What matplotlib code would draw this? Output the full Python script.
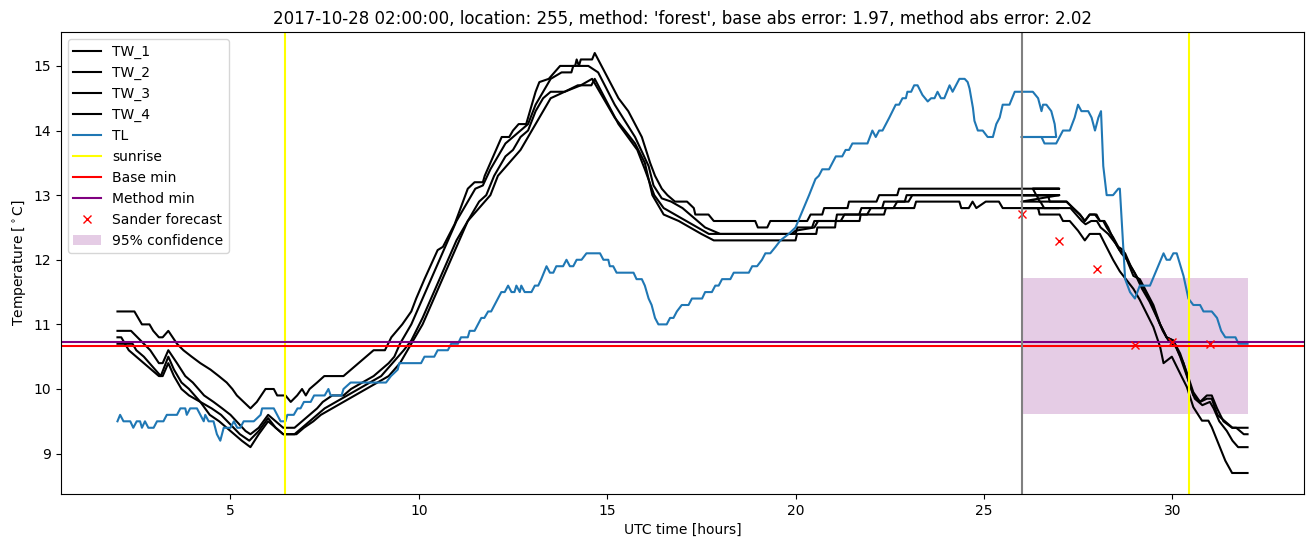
import numpy as np
import matplotlib
matplotlib.use('Agg')
import matplotlib.pyplot as plt

# station data, day 1 (02 UTC -> 27 UTC) followed by the forecast window (26 -> 32 UTC)
tw1_hours = [2.0, 2.45, 2.55, 2.65, 2.85, 2.95, 3.1, 3.2, 3.35, 3.58, 3.75, 3.97, 4.2, 4.47, 4.69, 4.9,
             5.05, 5.17, 5.35, 5.53, 5.7, 5.93, 6.15, 6.24, 6.46, 6.6, 6.77, 6.9, 7.0, 7.1, 7.3, 7.49,
             8.0, 8.2, 8.4, 8.6, 8.8, 9.1, 9.27, 9.56, 9.8, 9.93, 10.15, 10.5, 10.64, 10.95, 11.3, 11.48,
             11.7, 11.75, 12.2, 12.4, 12.5, 12.65, 12.85, 13.1, 13.2, 13.45, 13.75, 14.15, 14.19, 14.25,
             14.3, 14.6, 14.67, 14.85, 15.3, 15.56, 15.92, 16.14, 16.27, 16.45, 16.6, 16.8, 17.12, 17.3,
             17.34, 17.69, 17.83, 18.93, 19.0, 19.25, 19.33, 20.31, 20.4, 20.71, 20.76, 21.38, 21.42,
             22.15, 22.22, 22.7, 22.75, 27.0,
             26.0, 26.3, 26.39, 26.7, 26.75, 27.19, 27.37, 27.55, 27.68, 27.81, 27.99, 28.08, 28.17,
             28.26, 28.43, 28.57, 28.7, 28.83, 28.97, 29.14, 29.32, 29.5, 29.68, 29.85, 30.03, 30.21,
             30.39, 30.56, 30.74, 30.92, 31.05, 31.19, 31.36, 31.59, 31.9, 32.0]
tw1_temp = [11.2, 11.2, 11.1, 11.0, 11.0, 10.9, 10.8, 10.8, 10.9, 10.7, 10.6, 10.5, 10.4, 10.3, 10.2, 10.1,
            10.0, 9.9, 9.8, 9.7, 9.8, 10.0, 10.0, 9.9, 9.9, 9.8, 9.9, 10.0, 9.9, 10.0, 10.1, 10.2,
            10.2, 10.3, 10.4, 10.5, 10.6, 10.6, 10.8, 11.0, 11.2, 11.4, 11.7, 12.15, 12.2, 12.55, 13.1, 13.2,
            13.2, 13.3, 13.9, 13.9, 14.0, 14.1, 14.1, 14.6, 14.75, 14.8, 15.0, 15.0, 15.1, 15.0,
            15.1, 15.1, 15.2, 15.0, 14.5, 14.3, 13.9, 13.5, 13.3, 13.1, 13.0, 12.9, 12.9, 12.8,
            12.7, 12.7, 12.6, 12.6, 12.5, 12.5, 12.6, 12.6, 12.7, 12.7, 12.8, 12.8, 12.9,
            12.9, 13.0, 13.0, 13.1, 13.1,
            13.1, 13.1, 13.0, 13.0, 12.9, 12.9, 12.8, 12.7, 12.6, 12.7, 12.7, 12.6, 12.6,
            12.5, 12.35, 12.2, 12.15, 11.95, 11.75, 11.7, 11.5, 11.3, 11.0, 10.8, 10.75, 10.55,
            10.25, 9.95, 9.8, 9.9, 9.9, 9.7, 9.5, 9.4, 9.4, 9.4]

tw2_hours = [2.0, 2.36, 2.53, 2.7, 2.87, 3.1, 3.2, 3.35, 3.58, 3.8, 4.0, 4.3, 4.55, 4.78, 5.0, 5.24,
             5.4, 5.53, 5.75, 6.0, 6.2, 6.4, 6.7, 6.9, 7.1, 7.3, 7.45, 7.7, 8.0, 8.2, 8.5, 8.8, 9.0,
             9.2, 9.35, 9.5, 9.8, 10.1, 10.4, 10.7, 11.0, 11.2, 11.5, 11.7, 11.9, 12.1, 12.3, 12.5,
             12.7, 12.9, 13.1, 13.3, 13.5, 13.79, 14.05, 14.1, 14.41, 14.5, 14.76, 15.2, 15.74, 16.1,
             16.23, 16.45, 16.7, 17.0, 17.2, 17.4, 17.6, 18.0, 20.0, 20.05, 20.44, 20.5, 21.07, 21.1,
             21.69, 21.75, 22.3, 22.35, 22.9, 22.95, 27.0,
             26.0, 26.4, 26.48, 27.2, 27.37, 27.55, 27.68, 27.81, 27.95, 28.08, 28.2, 28.3, 28.45,
             28.6, 28.75, 28.9, 29.1, 29.3, 29.5, 29.68, 29.85, 30.03, 30.21, 30.39, 30.56, 30.74,
             30.92, 31.05, 31.2, 31.4, 31.6, 31.7, 31.9, 32.0]
tw2_temp = [10.9, 10.9, 10.8, 10.7, 10.6, 10.4, 10.4, 10.6, 10.4, 10.2, 10.1, 9.9, 9.8, 9.7, 9.6, 9.45,
            9.35, 9.3, 9.4, 9.6, 9.5, 9.4, 9.4, 9.5, 9.6, 9.7, 9.8, 9.9, 9.9, 10.0, 10.1, 10.2, 10.3,
            10.4, 10.5, 10.7, 11.0, 11.4, 11.8, 12.2, 12.6, 12.8, 13.1, 13.15, 13.4, 13.6, 13.8, 13.9,
            14.0, 14.1, 14.4, 14.6, 14.8, 14.9, 14.9, 15.0, 15.0, 15.0, 14.9, 14.4, 13.9, 13.45,
            13.15, 12.95, 12.9, 12.8, 12.7, 12.6, 12.5, 12.4, 12.4, 12.5, 12.5, 12.6, 12.6, 12.7,
            12.7, 12.8, 12.8, 12.9, 12.9, 13.0, 13.0,
            13.0, 13.0, 12.9, 12.9, 12.8, 12.7, 12.6, 12.7, 12.7, 12.6, 12.6, 12.5, 12.3,
            12.15, 12.1, 11.9, 11.7, 11.5, 11.25, 11.0, 10.8, 10.75, 10.5, 10.2, 9.9, 9.8,
            9.85, 9.85, 9.6, 9.5, 9.4, 9.4, 9.3, 9.3]

tw3_hours = [2.0, 2.1, 2.2, 2.4, 2.5, 2.7, 2.85, 3.0, 3.15, 3.35, 3.5, 3.7, 3.9, 4.2, 4.5, 4.75, 5.0,
             5.25, 5.5, 5.75, 6.0, 6.2, 6.4, 6.7, 6.9, 7.1, 7.3, 7.5, 7.8, 8.1, 8.4, 8.7, 9.0, 9.3,
             9.6, 9.8, 10.1, 10.4, 10.7, 11.0, 11.3, 11.6, 11.79, 12.0, 12.3, 12.5, 12.7, 12.9, 13.1,
             13.3, 13.5, 13.87, 14.22, 14.58, 14.67, 14.76, 15.3, 15.8, 16.0, 16.25, 16.5, 16.8, 17.1,
             17.4, 17.7, 18.0, 19.9, 20.0, 20.5, 20.6, 21.2, 21.3, 21.9, 22.0, 22.6, 22.7, 23.0, 23.1,
             27.0,
             26.0, 26.5, 26.6, 27.3, 27.45, 27.6, 27.7, 27.85, 28.0, 28.1, 28.3, 28.5, 28.65, 28.8,
             29.0, 29.2, 29.4, 29.6, 29.75, 29.9, 30.1, 30.3, 30.45, 30.6, 30.8, 31.0, 31.1, 31.25,
             31.45, 31.6, 31.75, 32.0]
tw3_temp = [10.8, 10.8, 10.7, 10.7, 10.6, 10.5, 10.4, 10.3, 10.2, 10.5, 10.3, 10.1, 10.0, 9.8, 9.7, 9.6, 9.45,
            9.3, 9.2, 9.35, 9.55, 9.4, 9.3, 9.3, 9.4, 9.5, 9.6, 9.7, 9.8, 9.9, 10.0, 10.1, 10.2, 10.4,
            10.6, 10.75, 11.1, 11.5, 11.9, 12.3, 12.6, 12.9, 13.0, 13.3, 13.6, 13.7, 13.9, 14.0, 14.3,
            14.5, 14.6, 14.6, 14.7, 14.7, 14.8, 14.7, 14.1, 13.7, 13.4, 13.0, 12.8, 12.7, 12.6,
            12.5, 12.4, 12.4, 12.4, 12.45, 12.5, 12.6, 12.6, 12.7, 12.7, 12.8, 12.8, 12.9, 12.9, 13.0,
            13.0,
            12.9, 12.9, 12.8, 12.8, 12.7, 12.6, 12.55, 12.6, 12.6, 12.5, 12.4, 12.25, 12.1, 12.0,
            11.8, 11.55, 11.35, 11.1, 10.9, 10.75, 10.65, 10.4, 10.1, 9.85, 9.75, 9.8, 9.7, 9.5,
            9.35, 9.2, 9.1, 9.1]

tw4_hours = [2.0, 2.2, 2.3, 2.5, 2.7, 2.9, 3.1, 3.2, 3.35, 3.5, 3.7, 3.9, 4.2, 4.45, 4.7, 5.0, 5.3,
             5.53, 5.75, 6.0, 6.2, 6.4, 6.75, 6.95, 7.2, 7.4, 7.7, 8.0, 8.3, 8.6, 8.9, 9.2, 9.5, 9.8,
             10.1, 10.4, 10.7, 11.0, 11.3, 11.6, 11.9, 12.1, 12.4, 12.7, 13.0, 13.3, 13.5, 13.87,
             14.3, 14.6, 14.7, 15.2, 15.74, 16.0, 16.2, 16.5, 16.9, 17.2, 17.5, 17.83, 20.0, 20.04,
             20.55, 20.58, 21.05, 21.07, 21.7, 21.73, 22.35, 22.4, 23.15, 23.2, 24.35, 24.4, 24.6,
             24.7, 24.8, 25.05, 25.4, 25.5, 27.0,
             26.0, 26.44, 26.48, 27.01, 27.1, 27.28, 27.5, 27.68, 27.81, 28.08, 28.21, 28.43, 28.61,
             28.97, 29.14, 29.32, 29.5, 29.68, 29.77, 29.99, 30.21, 30.39, 30.56, 30.79, 30.96,
             31.05, 31.23, 31.41, 31.59, 32.0]
tw4_temp = [10.7, 10.7, 10.6, 10.5, 10.4, 10.3, 10.2, 10.2, 10.4, 10.2, 10.0, 9.9, 9.8, 9.6, 9.5, 9.35, 9.2,
            9.1, 9.3, 9.5, 9.4, 9.3, 9.3, 9.4, 9.5, 9.6, 9.7, 9.8, 9.9, 10.0, 10.1, 10.2, 10.4, 10.7,
            11.0, 11.4, 11.8, 12.2, 12.6, 12.8, 13.0, 13.3, 13.5, 13.7, 14.0, 14.3, 14.5, 14.6,
            14.7, 14.8, 14.7, 14.2, 13.8, 13.5, 13.0, 12.7, 12.6, 12.5, 12.4, 12.3, 12.3, 12.4,
            12.4, 12.5, 12.5, 12.6, 12.6, 12.7, 12.7, 12.8, 12.8, 12.9, 12.9, 12.8, 12.8,
            12.9, 12.8, 12.9, 12.9, 12.8, 12.8,
            12.8, 12.8, 12.7, 12.7, 12.6, 12.6, 12.45, 12.3, 12.4, 12.4, 12.25, 12.0, 11.82,
            11.55, 11.38, 11.17, 10.96, 10.65, 10.4, 10.5, 10.24, 10.03, 9.72, 9.51, 9.51,
            9.41, 9.15, 8.89, 8.7, 8.7]

tl_hours = [2.0, 2.07, 2.16, 2.34, 2.42, 2.51, 2.6, 2.65, 2.73, 2.82, 2.96, 3.05, 3.22, 3.31, 3.58, 3.67,
            3.8, 3.84, 3.93, 4.11, 4.2, 4.29, 4.33, 4.42, 4.55, 4.64, 4.73, 4.82, 5.0, 5.09, 5.18, 5.26,
            5.35, 5.62, 5.8, 5.84, 6.15, 6.33, 6.46, 6.51, 6.68, 6.78, 6.86, 6.95, 7.13, 7.22, 7.5,
            7.6, 7.66, 7.95, 8.0, 8.19, 9.13, 9.26, 9.44, 9.48, 10.06, 10.15, 10.41, 10.5, 10.77,
            10.86, 11.04, 11.12, 11.3, 11.35, 11.48, 11.57, 11.66, 11.74, 11.84, 11.92, 12.1, 12.19,
            12.28, 12.37, 12.46, 12.54, 12.59, 12.68, 12.72, 12.81, 12.99, 13.08, 13.17, 13.25, 13.39,
            13.48, 13.57, 13.65, 13.83, 13.92, 14.01, 14.1, 14.19, 14.32, 14.45, 14.81, 14.9, 15.03,
            15.07, 15.16, 15.25, 15.7, 15.78, 15.92, 16.0, 16.1, 16.18, 16.27, 16.36, 16.58, 16.67,
            16.76, 16.85, 16.98, 17.16, 17.25, 17.52, 17.6, 17.78, 17.87, 17.96, 18.05, 18.27, 18.36,
            18.76, 18.85, 18.98, 19.11, 19.2, 19.33, 19.47, 19.6, 19.82, 20.0, 20.36, 20.53, 20.62,
            20.71, 20.89, 20.98, 21.07, 21.24, 21.33, 21.42, 21.51, 21.91, 22.04, 22.13, 22.22, 22.31,
            22.49, 22.66, 22.75, 22.84, 22.93, 22.97, 23.07, 23.15, 23.24, 23.37, 23.51, 23.6, 23.69,
            23.77, 23.86, 23.95, 24.09, 24.17, 24.35, 24.49, 24.57, 24.62, 24.71, 24.75, 24.84, 24.97,
            25.1, 25.24, 25.33, 25.42, 25.5, 25.68, 25.82, 26.3, 26.44, 26.53, 26.57, 26.66, 26.79,
            26.88, 26.92,
            26.0, 26.53, 26.61, 26.92, 27.1, 27.28, 27.41, 27.5, 27.59, 27.77, 27.86, 27.95, 28.04,
            28.11, 28.17, 28.26, 28.43, 28.57, 28.61, 28.75, 28.88, 29.01, 29.14, 29.41, 29.59,
            29.77, 29.85, 29.94, 30.03, 30.12, 30.3, 30.43, 30.56, 30.74, 30.83, 31.05, 31.19, 31.3,
            31.41, 31.68, 31.76, 32.0]
tl_temp = [9.5, 9.6, 9.5, 9.5, 9.4, 9.5, 9.5, 9.4, 9.5, 9.4, 9.4, 9.5, 9.5, 9.6, 9.6, 9.7,
           9.7, 9.6, 9.7, 9.7, 9.6, 9.5, 9.6, 9.5, 9.5, 9.3, 9.2, 9.4, 9.4, 9.5, 9.4, 9.4,
           9.5, 9.5, 9.6, 9.7, 9.7, 9.5, 9.5, 9.6, 9.6, 9.7, 9.7, 9.8, 9.8, 9.9, 9.9,
           10.0, 9.9, 9.9, 10.0, 10.1, 10.1, 10.2, 10.3, 10.4, 10.4, 10.5, 10.5, 10.6, 10.6,
           10.7, 10.7, 10.8, 10.8, 10.9, 10.9, 11.0, 11.1, 11.1, 11.2, 11.2, 11.4, 11.5,
           11.5, 11.6, 11.5, 11.5, 11.6, 11.5, 11.6, 11.5, 11.5, 11.6, 11.6, 11.7, 11.9,
           11.8, 11.8, 11.9, 11.9, 12.0, 11.9, 11.9, 12.0, 12.0, 12.1, 12.1, 12.0, 12.0,
           11.9, 11.9, 11.8, 11.8, 11.7, 11.7, 11.6, 11.4, 11.3, 11.1, 11.0, 11.0, 11.1,
           11.1, 11.2, 11.3, 11.3, 11.4, 11.4, 11.5, 11.5, 11.6, 11.6, 11.7, 11.7, 11.8,
           11.8, 11.9, 11.9, 12.0, 12.1, 12.1, 12.2, 12.3, 12.4, 12.5, 13.0, 13.25, 13.3,
           13.4, 13.4, 13.5, 13.6, 13.6, 13.7, 13.7, 13.8, 13.8, 14.0, 13.9, 14.0, 14.0,
           14.2, 14.4, 14.4, 14.5, 14.5, 14.6, 14.6, 14.7, 14.7, 14.55, 14.45, 14.5, 14.5,
           14.6, 14.5, 14.5, 14.7, 14.6, 14.8, 14.8, 14.75, 14.65, 14.35, 14.15, 14.0, 14.0,
           13.9, 13.9, 14.1, 14.2, 14.4, 14.4, 14.6, 14.6, 14.5, 14.3, 14.4, 14.4, 14.3,
           14.1, 13.9,
           13.9, 13.9, 13.8, 13.8, 14.0, 14.0, 14.2, 14.4, 14.3, 14.3, 14.2, 14.0, 14.2,
           14.3, 13.45, 13.0, 13.0, 13.1, 13.1, 11.7, 11.5, 11.4, 11.6, 11.6, 11.85,
           12.1, 12.0, 12.0, 12.1, 12.1, 11.75, 11.4, 11.3, 11.3, 11.2, 11.2, 11.1, 10.9,
           10.8, 10.8, 10.7, 10.7]

sunrise_hours = [6.45, 30.45]
forecast_start = 26.0
base_min = 10.67
method_min = 10.72
sander_hours = [26, 27, 28, 29, 30, 31]
sander_temp = [12.71, 12.29, 11.86, 10.68, 10.73, 10.70]
conf_hours = [26.0, 32.0]
conf_low = 9.61
conf_high = 11.72

title = ("2017-10-28 02:00:00, location: 255, method: 'forest', "
         "base abs error: 1.97, method abs error: 2.02")

fig = plt.figure(figsize=(13.11, 5.47), dpi=100)
ax = fig.add_axes([0.0465, 0.0969, 0.9482, 0.8446])

ax.plot(tw1_hours, tw1_temp, color='black', label='TW_1')
ax.plot(tw2_hours, tw2_temp, color='black', label='TW_2')
ax.plot(tw3_hours, tw3_temp, color='black', label='TW_3')
ax.plot(tw4_hours, tw4_temp, color='black', label='TW_4')
ax.plot(tl_hours, tl_temp, color='C0', label='TL')

for i, sr in enumerate(sunrise_hours):
    ax.axvline(sr, color='yellow', label='sunrise' if i == 0 else None)

ax.axhline(base_min, color='red', label='Base min')
ax.axhline(method_min, color='purple', label='Method min')
ax.plot(sander_hours, sander_temp, 'rx', label='Sander forecast')
ax.axvline(forecast_start, color='gray')
ax.fill_between(conf_hours, conf_low, conf_high, color='purple', alpha=0.2,
                linewidth=0, label='95% confidence')

ax.set_title(title)
ax.set_xlabel('UTC time [hours]')
ax.set_ylabel(r'Temperature [$^\circ$C]')
ax.legend(loc='upper left')

plt.savefig('out.png', dpi=100)
